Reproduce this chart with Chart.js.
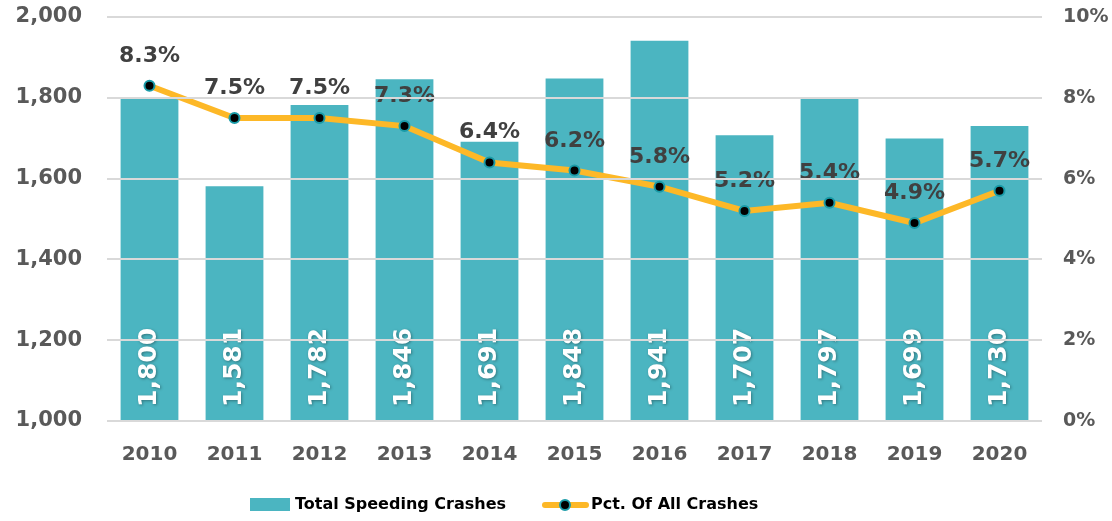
<!DOCTYPE html>
<html>
<head>
<meta charset="utf-8">
<script src="https://cdn.jsdelivr.net/npm/chart.js@4.4.1/dist/chart.umd.min.js"></script>
<style>
  html, body { margin: 0; padding: 0; background: #fff; }
  #wrap { width: 1112px; height: 521px; }
</style>
</head>
<body>
<div id="wrap"><canvas id="chart"></canvas></div>
<script>
// --- dados ---
const years = ['2010', '2011', '2012', '2013', '2014', '2015', '2016', '2017', '2018', '2019', '2020'];
const speedingCrashes = [1800, 1581, 1782, 1846, 1691, 1848, 1941, 1707, 1797, 1699, 1730];
const pctOfAll = [8.3, 7.5, 7.5, 7.3, 6.4, 6.2, 5.8, 5.2, 5.4, 4.9, 5.7];
const leftTicks = [1000, 1200, 1400, 1600, 1800, 2000];
const rightTicks = [0, 2, 4, 6, 8, 10];

const TEAL = '#4BB5C1';
const GOLD = '#FDB827';
const FONT = '"DejaVu Sans", sans-serif';

// rótulos das barras e da linha + legenda
const labelsPlugin = {
    id: 'customLabels',
    afterDatasetsDraw(chart) {
        const ctx = chart.ctx;
        const bottom = chart.chartArea.bottom;
        const bars = chart.getDatasetMeta(1);
        bars.data.forEach((el, i) => {
            ctx.save();
            ctx.translate(el.x, bottom - 14);
            ctx.rotate(-Math.PI / 2);
            ctx.font = 'bold 25px ' + FONT;
            ctx.fillStyle = '#fff';
            ctx.textAlign = 'left';
            ctx.textBaseline = 'middle';
            ctx.shadowColor = 'rgba(0,0,0,0.35)';
            ctx.shadowBlur = 3;
            ctx.shadowOffsetX = 1;
            ctx.shadowOffsetY = 1;
            ctx.fillText(speedingCrashes[i].toLocaleString('en-US'), 0, 0);
            ctx.restore();
        });
        const pts = chart.getDatasetMeta(0);
        pts.data.forEach((p, i) => {
            ctx.save();
            ctx.font = 'bold 22px ' + FONT;
            ctx.fillStyle = '#404040';
            ctx.textAlign = 'center';
            ctx.textBaseline = 'alphabetic';
            ctx.fillText(pctOfAll[i].toFixed(1) + '%', p.x, p.y - 24);
            ctx.restore();
        });
    },
    afterDraw(chart) {
        const ctx = chart.ctx;
        const y = 505;
        ctx.save();
        ctx.fillStyle = TEAL;
        ctx.fillRect(250, y - 7, 40, 13);
        ctx.font = 'bold 16px ' + FONT;
        ctx.fillStyle = '#000';
        ctx.textBaseline = 'middle';
        ctx.fillText('Total Speeding Crashes', 295, y);
        ctx.strokeStyle = GOLD;
        ctx.lineWidth = 6;
        ctx.lineCap = 'round';
        ctx.beginPath();
        ctx.moveTo(545, y);
        ctx.lineTo(586, y);
        ctx.stroke();
        ctx.beginPath();
        ctx.arc(565, y, 5, 0, Math.PI * 2);
        ctx.fillStyle = '#000';
        ctx.fill();
        ctx.lineWidth = 2;
        ctx.strokeStyle = '#1A9BA8';
        ctx.stroke();
        ctx.fillStyle = '#000';
        ctx.fillText('Pct. Of All Crashes', 591, y);
        ctx.restore();
    }
};

const noVPad = (w) => (s) => { s.width = w; s.paddingTop = 0; s.paddingBottom = 0; };

const ctx = document.getElementById('chart').getContext('2d');
new Chart(ctx, {
    data: {
        labels: years,
        datasets: [
            {
                type: 'line', label: 'Pct. Of All Crashes', data: pctOfAll, yAxisID: 'y1', order: 0,
                borderColor: GOLD, borderWidth: 6, tension: 0,
                pointRadius: 5, pointBackgroundColor: '#000', pointBorderColor: '#1A9BA8', pointBorderWidth: 2
            },
            {
                type: 'bar', label: 'Total Speeding Crashes', data: speedingCrashes, yAxisID: 'y', order: 1,
                backgroundColor: TEAL, barPercentage: 0.68, categoryPercentage: 1
            }
        ]
    },
    options: {
        responsive: true, maintainAspectRatio: false, animation: false,
        layout: { padding: { top: 17, right: 0, bottom: 45, left: 0 } },
        plugins: { legend: { display: false }, tooltip: { enabled: false } },
        scales: {
            x: {
                grid: { display: false },
                border: { display: false },
                ticks: { color: '#595959', font: { family: FONT, size: 20, weight: 'bold' }, padding: 14 },
                afterFit: (s) => { s.height = 55; }
            },
            y: {
                position: 'left', min: 1000, max: 2000,
                afterBuildTicks: (s) => { s.ticks = leftTicks.map(v => ({ value: v })); },
                grid: { color: '#D9D9D9', lineWidth: 2, drawTicks: false, z: 1 },
                border: { display: false },
                ticks: {
                    color: '#595959', font: { family: FONT, size: 21, weight: 'bold' }, padding: 25,
                    callback: (v) => v.toLocaleString('en-US')
                },
                afterFit: noVPad(107)
            },
            y1: {
                position: 'right', min: 0, max: 10,
                afterBuildTicks: (s) => { s.ticks = rightTicks.map(v => ({ value: v })); },
                grid: { display: false, drawTicks: false },
                border: { display: false },
                ticks: {
                    color: '#595959', font: { family: FONT, size: 19, weight: 'bold' }, padding: 21,
                    callback: (v) => v + '%'
                },
                afterFit: noVPad(70)
            }
        }
    },
    plugins: [labelsPlugin]
});
</script>
</body>
</html>
